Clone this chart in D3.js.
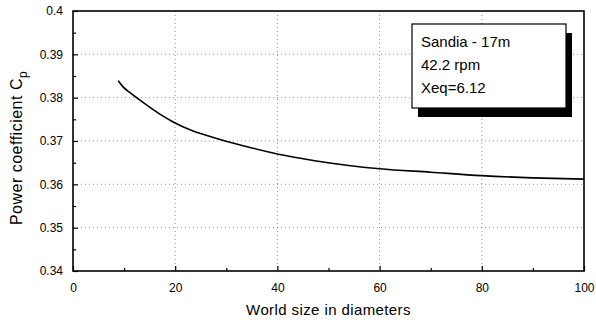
<!DOCTYPE html>
<html>
<head>
<meta charset="utf-8">
<script src="https://cdn.jsdelivr.net/npm/d3@7"></script>
<style>
  html, body { margin: 0; padding: 0; background: #fff; }
  svg { display: block; font-family: "Liberation Sans", Arial, Helvetica, sans-serif; }
</style>
</head>
<body>
<svg id="chart" width="596" height="322"></svg>
<script>
// ---- data ----
const worldSize = [8.85, 9.8, 11.1, 13.7, 17.0, 19.6, 23.5, 28.1, 32.0, 35.0, 40.0, 47.6, 60.0, 70.0, 80.0, 90.0, 100.0];
const powerCoef = [0.3839, 0.3825, 0.3812, 0.3789, 0.3762, 0.3744, 0.3723, 0.3706, 0.3693, 0.3684, 0.3670, 0.3654, 0.3636, 0.3628, 0.3620, 0.3615, 0.3612];
const xTicks = [0, 20, 40, 60, 80, 100];
const xMinorTicks = [10, 30, 50, 70, 90];
const yTicks = [0.34, 0.35, 0.36, 0.37, 0.38, 0.39, 0.40];
const yMinorTicks = [0.345, 0.355, 0.365, 0.375, 0.385, 0.395];
const legendLines = ["Sandia - 17m", "42.2 rpm", "Xeq=6.12"];
const xTitle = "World size in diameters";

// ---- layout ----
const svg = d3.select("#chart");
const L = 73, R = 584, T = 11, B = 271;
const x = d3.scaleLinear().domain([0, 100]).range([L, R]);
const y = d3.scaleLinear().domain([0.34, 0.40]).range([B, T]);

// grid
const grid = svg.append("g").attr("stroke", "#777").attr("stroke-width", 0.8).attr("stroke-dasharray", "1,3");
grid.selectAll("line.v").data(xTicks.slice(1, -1)).join("line")
  .attr("x1", d => x(d)).attr("x2", d => x(d)).attr("y1", T).attr("y2", B);
grid.selectAll("line.h").data(yTicks.slice(1, -1)).join("line")
  .attr("x1", L).attr("x2", R).attr("y1", d => y(d)).attr("y2", d => y(d));

// axes (ticks inward)
const fmtY = d3.format(".2~f");
const xAxis = svg.append("g").attr("transform", `translate(0,${B})`)
  .call(d3.axisBottom(x).tickValues(xTicks).tickSizeInner(-5).tickSizeOuter(0).tickPadding(12));
const xAxisMinor = svg.append("g").attr("transform", `translate(0,${B})`)
  .call(d3.axisBottom(x).tickValues(xMinorTicks).tickSizeInner(-3).tickSizeOuter(0).tickFormat(""));
const yAxis = svg.append("g").attr("transform", `translate(${L},0)`)
  .call(d3.axisLeft(y).tickValues(yTicks).tickFormat(fmtY).tickSizeInner(-5).tickSizeOuter(0).tickPadding(10));
const yAxisMinor = svg.append("g").attr("transform", `translate(${L},0)`)
  .call(d3.axisLeft(y).tickValues(yMinorTicks).tickSizeInner(-3).tickSizeOuter(0).tickFormat(""));
[xAxis, xAxisMinor, yAxis, yAxisMinor].forEach(g => {
  g.select(".domain").remove();
  g.selectAll("line").attr("stroke", "#000").attr("stroke-width", 1.2);
  g.selectAll("text").attr("fill", "#000").attr("font-size", 12).attr("font-family", "\"Liberation Sans\", Arial, sans-serif");
});

// frame
svg.append("rect").attr("x", L).attr("y", T).attr("width", R - L).attr("height", B - T)
  .attr("fill", "none").attr("stroke", "#000").attr("stroke-width", 1.6);

// curve
const line = d3.line().x((d, i) => x(worldSize[i])).y(d => y(d)).curve(d3.curveMonotoneX);
svg.append("path").datum(powerCoef).attr("d", line)
  .attr("fill", "none").attr("stroke", "#000").attr("stroke-width", 1.6);

// legend box with shadow
const bx = 412, by = 24, bw = 154, bh = 84;
svg.append("rect").attr("x", bx + 6).attr("y", by + 9).attr("width", bw).attr("height", bh).attr("fill", "#000");
svg.append("rect").attr("x", bx).attr("y", by).attr("width", bw).attr("height", bh)
  .attr("fill", "#fff").attr("stroke", "#000").attr("stroke-width", 1.2);
svg.append("g").selectAll("text").data(legendLines).join("text")
  .attr("x", bx + 9).attr("y", (d, i) => by + 23 + i * 22.8)
  .attr("font-size", 15).attr("fill", "#000").text(d => d);

// axis titles
svg.append("text").attr("x", (L + R) / 2).attr("y", 315).attr("text-anchor", "middle")
  .attr("font-size", 15).attr("letter-spacing", 0.4).attr("fill", "#000").text(xTitle);
const yt = svg.append("text").attr("transform", `translate(22,148) rotate(-90)`)
  .attr("text-anchor", "middle").attr("font-size", 16).attr("letter-spacing", 0.5).attr("fill", "#000");
yt.append("tspan").text("Power coefficient C");
yt.append("tspan").attr("dy", 5).attr("font-size", 12).text("p");
</script>
</body>
</html>
